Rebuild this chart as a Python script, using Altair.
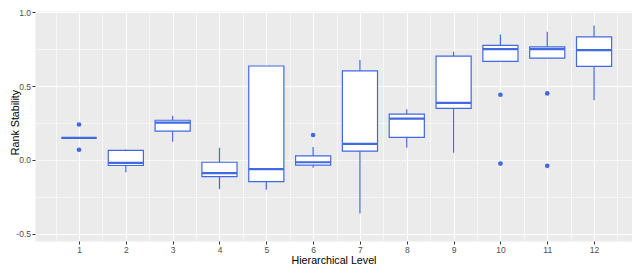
import altair as alt
import pandas as pd

# ---- data ----
levels = list(range(1, 13))
q1 =     [0.149, -0.038, 0.195, -0.113, -0.147, -0.036, 0.060, 0.153, 0.349, 0.669, 0.691, 0.635]
median = [0.149, -0.020, 0.253, -0.089, -0.063, -0.016, 0.109, 0.280, 0.387, 0.751, 0.751, 0.744]
q3 =     [0.149,  0.064, 0.269, -0.016,  0.637,  0.027, 0.604, 0.311, 0.704, 0.777, 0.767, 0.835]
w_low =  [0.149, -0.083, 0.124, -0.198, -0.203, -0.053, -0.363, 0.082, 0.049, 0.669, 0.691, 0.404]
w_high = [0.149,  0.070, 0.300,  0.082,  0.637,  0.087, 0.677, 0.344, 0.733, 0.851, 0.869, 0.911]

out_level = [1, 1, 6, 10, 10, 11, 11]
out_value = [0.240, 0.069, 0.169, 0.442, -0.025, 0.451, -0.040]

x_ticks = [i / 2 for i in range(1, 26)]
y_ticks = [-0.5, -0.25, 0.0, 0.25, 0.5, 0.75, 1.0]

box_df = pd.DataFrame({"level": levels, "q1": q1, "median": median, "q3": q3,
                       "w_low": w_low, "w_high": w_high})
out_df = pd.DataFrame({"level": out_level, "value": out_value})

BLUE = "#4169E1"
HALF = 0.375

x_scale = alt.Scale(domain=[0.06, 12.81], nice=False, zero=False)
y_scale = alt.Scale(domain=[-0.55, 1.01], nice=False, zero=False)

x_axis = alt.Axis(
    values=x_ticks,
    labelExpr="datum.value % 1 === 0 ? format(datum.value, 'd') : ''",
    gridWidth={"condition": {"test": "datum.value % 1 !== 0", "value": 0.55}, "value": 1.1},
    tickOpacity={"condition": {"test": "datum.value % 1 !== 0", "value": 0}, "value": 1},
    title="Hierarchical Level",
    titleY=22,
    titleBaseline="alphabetic",
)
y_axis = alt.Axis(
    values=y_ticks,
    labelExpr="datum.value % 0.5 === 0 ? (datum.value < 0 ? '-' : '') + format(abs(datum.value), '.1f') : ''",
    gridWidth={"condition": {"test": "datum.value % 0.5 !== 0", "value": 0.55}, "value": 1.1},
    gridDash={"condition": {"test": "datum.value === 0", "value": [2, 1]}, "value": []},
    tickOpacity={"condition": {"test": "datum.value % 0.5 !== 0", "value": 0}, "value": 1},
    title="Rank Stability",
    titleAngle=270,
    titleAlign="center",
    titleBaseline="alphabetic",
    titleX=-17,
    titleY=111,
)

base = alt.Chart(box_df).transform_calculate(
    lo=f"datum.level - {HALF}", hi=f"datum.level + {HALF}"
)

whiskers = base.mark_rule(color=BLUE, strokeWidth=1.2).encode(
    x=alt.X("level:Q", scale=x_scale, axis=x_axis),
    y=alt.Y("w_low:Q", scale=y_scale, axis=y_axis),
    y2="w_high:Q",
)

boxes = base.mark_bar(fill="white", stroke=BLUE, strokeWidth=1.2).encode(
    x=alt.X("lo:Q", scale=x_scale, axis=x_axis),
    x2="hi:Q",
    y=alt.Y("q1:Q", scale=y_scale, axis=y_axis),
    y2="q3:Q",
)

medians = base.mark_rule(color=BLUE, strokeWidth=2.2).encode(
    x=alt.X("lo:Q", scale=x_scale, axis=x_axis),
    x2="hi:Q",
    y=alt.Y("median:Q", scale=y_scale, axis=y_axis),
)

outliers = alt.Chart(out_df).mark_circle(color=BLUE, opacity=1, size=22).encode(
    x=alt.X("level:Q", scale=x_scale, axis=x_axis),
    y=alt.Y("value:Q", scale=y_scale, axis=y_axis),
)

chart = alt.layer(whiskers, boxes, medians, outliers).properties(
    width=597,
    height=230,
    autosize=alt.AutoSizeParams(type="none"),
    padding={"left": 27, "top": 3, "right": 0, "bottom": 24},
    background="white",
).configure_view(
    fill="#EBEBEB", strokeOpacity=0
).configure_axis(
    domain=False,
    grid=True,
    gridColor="white",
    tickColor="#333333",
    tickSize=3,
    labelColor="#4D4D4D",
    labelFontSize=8.5,
    labelFont="Liberation Sans",
    labelPadding=1.5,
    titleFont="Liberation Sans",
    titleFontSize=10.7,
    titleFontWeight="normal",
    titleColor="black",
)

chart.save("out.html", embed_options={"renderer": "svg", "actions": False})
